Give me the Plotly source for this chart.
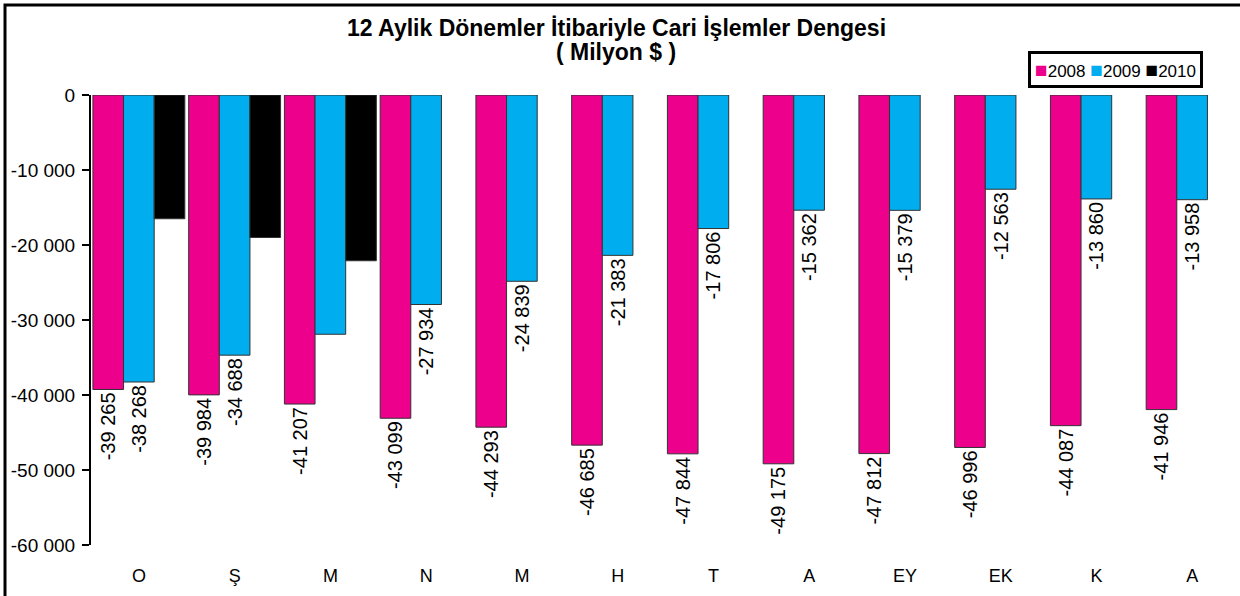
import plotly.graph_objects as go

categories = ["O", "Ş", "M", "N", "M", "H", "T", "A", "EY", "EK", "K", "A"]
series_names = ["2008", "2009", "2010"]
values_2008 = [-39265, -39984, -41207, -43099, -44293, -46685, -47844, -49175, -47812, -46996, -44087, -41946]
values_2009 = [-38268, -34688, -31900, -27934, -24839, -21383, -17806, -15362, -15379, -12563, -13860, -13958]
values_2010 = [-16500, -19000, -22100, None, None, None, None, None, None, None, None, None]
labelled_2009 = [True, True, False, True, True, True, True, True, True, True, True, True]
y_ticks = [0, -10000, -20000, -30000, -40000, -50000, -60000]
colors = ["#EC008C", "#00AEEF", "#000000"]
title_line1 = "12 Aylik Dönemler İtibariyle Cari İşlemler Dengesi"
title_line2 = "( Milyon $ )"


def fmt(v):
    return f"{v:,}".replace(",", " ")


x = list(range(len(categories)))
text_2008 = [fmt(v) for v in values_2008]
text_2009 = [fmt(v) if ok else "" for v, ok in zip(values_2009, labelled_2009)]

FONT = "Liberation Sans, Arial, sans-serif"

fig = go.Figure()
for name, vals, txt, col in [
    (series_names[0], values_2008, text_2008, colors[0]),
    (series_names[1], values_2009, text_2009, colors[1]),
    (series_names[2], values_2010, None, colors[2]),
]:
    fig.add_trace(go.Bar(
        x=x, y=vals, name=name,
        marker=dict(color=col, line=dict(color="#333333", width=1)),
        text=txt,
        textposition="outside" if txt else "none",
        textangle=-90,
        textfont=dict(family=FONT, size=20, color="black"),
        constraintext="none",
        cliponaxis=False,
        hoverinfo="skip",
        showlegend=False,
    ))

ml, mr, mt, mb = 91, 0, 95, 51
W, H = 1240, 596
pw, ph = W - ml - mr, H - mt - mb


def px_x(p):
    return (p - ml) / pw


def px_y(p):
    return (H - mb - p) / ph


legend_text = "&nbsp;".join(
    f"<span style='color:{c};font-size:21px'>■</span>{n}" for c, n in zip(colors, series_names)
)

fig.update_layout(
    width=W, height=H,
    margin=dict(l=ml, r=mr, t=mt, b=mb),
    paper_bgcolor="white", plot_bgcolor="white",
    barmode="group", bargap=0.04, bargroupgap=0,
    separators=". ",
    font=dict(family=FONT, size=17, color="black"),
    showlegend=False,
    xaxis=dict(
        tickmode="array", tickvals=x, ticktext=categories,
        range=[-0.5, len(categories) - 0.5],
        showline=False, showgrid=False, zeroline=False, ticks="",
        ticklabelstandoff=18,
        tickfont=dict(family=FONT, size=18, color="black"),
    ),
    yaxis=dict(
        range=[-60000, 0],
        tickmode="array", tickvals=y_ticks,
        ticktext=[fmt(v) for v in y_ticks],
        showline=True, linecolor="black", linewidth=2,
        ticks="outside", ticklen=7, tickwidth=2, tickcolor="black",
        showgrid=False, zeroline=False,
        ticklabelstandoff=3,
        tickfont=dict(family=FONT, size=19, color="black"),
    ),
    annotations=[
        dict(text=f"<b>{title_line1}</b>", xref="paper", yref="paper",
             x=px_x(616), y=px_y(28), xanchor="center", yanchor="middle",
             showarrow=False, font=dict(family=FONT, size=23, color="black")),
        dict(text=f"<b>{title_line2}</b>", xref="paper", yref="paper",
             x=px_x(616), y=px_y(52), xanchor="center", yanchor="middle",
             showarrow=False, font=dict(family=FONT, size=23, color="black")),
        dict(text=legend_text, xref="paper", yref="paper",
             x=px_x(1115), y=px_y(69), xanchor="center", yanchor="middle",
             showarrow=False, bordercolor="black", borderwidth=3, borderpad=4,
             bgcolor="white", font=dict(family=FONT, size=17, color="black")),
    ],
    shapes=[dict(
        type="rect", xref="paper", yref="paper",
        x0=px_x(5), x1=px_x(1250), y0=px_y(610), y1=px_y(5),
        line=dict(color="black", width=3), fillcolor="rgba(0,0,0,0)",
        layer="above",
    )],
)

fig.write_html(
    "out.html",
    config={"displayModeBar": False},
    post_script="document.body.style.margin='0';document.body.style.overflow='hidden';",
)
